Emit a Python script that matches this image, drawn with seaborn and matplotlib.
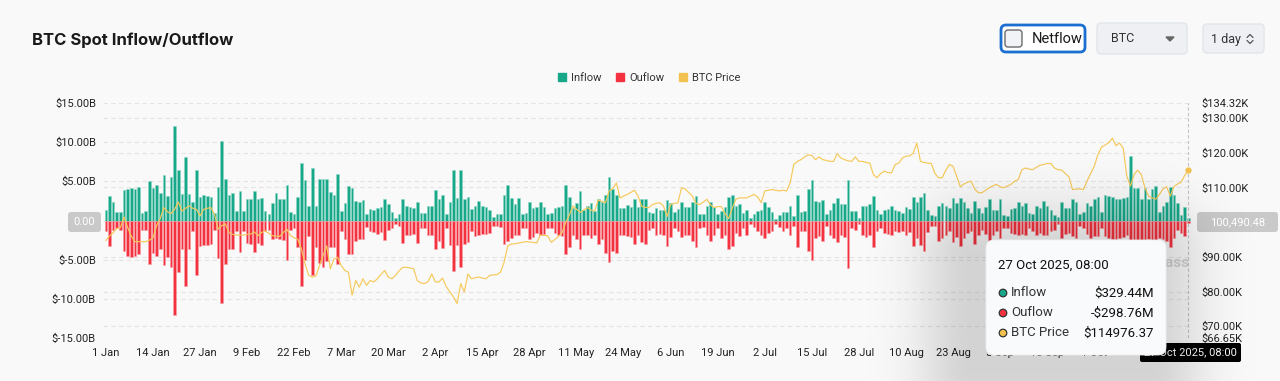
import numpy as np
import pandas as pd
import matplotlib
matplotlib.use("Agg")
import matplotlib.pyplot as plt
import seaborn as sns
from matplotlib.patches import FancyBboxPatch, Patch, Circle, Polygon, Rectangle

# daily spot inflow (billions USD), 1 Jan - 27 Oct 2025
inflow = [
    1.4, 3.1, 2.35, 1.07, 1.07, 3.9, 3.97, 4.2, 4.0, 4.3,
    1.0, 1.15, 5.0, 4.2, 4.5, 3.5, 5.8, 3.1, 5.5, 12.1,
    6.45, 3.4, 8.1, 3.4, 2.3, 6.5, 3.0, 3.3, 3.1, 3.0,
    1.0, 4.3, 10.2, 5.3, 3.25, 3.5, 1.2, 3.8, 1.2, 2.7,
    2.8, 3.8, 2.7, 2.9, 1.2, 0.8, 2.2, 3.5, 2.8, 2.7,
    4.5, 1.1, 0.8, 3.0, 7.3, 5.2, 1.9, 6.75, 1.9, 5.3,
    5.3, 5.3, 3.7, 3.3, 5.9, 1.2, 2.2, 4.4, 4.2, 2.5,
    2.3, 2.6, 0.8, 1.5, 1.4, 1.6, 1.75, 2.8, 2.05, 1.1,
    0.35, 0.8, 2.8, 1.8,
    1.75, 1.6, 2.3, 1.0, 0.9, 1.8, 1.9, 3.9, 2.7, 3.2,
    0.8, 2.35, 6.5, 2.9, 6.45, 2.8, 3.0, 1.5, 1.9, 2.5,
    1.8, 1.75, 1.4, 0.5, 0.8, 0.8, 3.25, 4.5, 2.9, 2.05,
    2.9, 0.8, 0.9, 2.35, 1.6, 1.75, 2.4, 1.75, 0.8, 0.9,
    1.6, 1.75, 1.9, 4.5, 3.0, 1.6, 2.2, 3.8, 1.4, 1.9,
    2.2, 1.2, 2.7, 2.35, 3.2, 5.6, 4.0, 3.2, 1.6, 1.6,
    2.0, 1.75, 2.7, 1.75, 2.8, 2.7, 1.1, 0.9, 1.6, 1.4,
    1.4, 2.6, 2.2, 1.1, 1.5, 2.35, 1.75, 1.75, 2.35, 3.1,
    0.8, 0.8, 1.8, 2.3, 1.75, 0.8, 1.2, 1.75, 3.0,
    3.3, 1.9, 2.05, 1.0, 1.4, 0.35, 0.8, 1.2, 1.3, 2.3,
    1.75, 1.1, 0.25, 0.65, 1.1, 1.1, 1.8, 0.55, 3.3, 1.1,
    1.2, 4.0, 5.2, 2.5, 2.35, 2.6, 0.8, 1.4, 2.2, 2.9,
    2.05, 2.05, 5.2, 1.2, 1.2, 0.35, 1.9, 1.9, 2.05, 3.1,
    1.4, 0.8, 1.4, 1.5, 1.8, 1.3, 1.2, 1.0, 1.75, 1.5,
    3.0, 2.3, 3.0, 3.5, 1.4, 0.65, 0.55, 1.9, 2.2, 1.9,
    1.6, 2.9, 2.2, 2.9, 2.35, 1.6, 1.0, 2.5, 1.6, 1.0,
    1.75, 2.7, 1.4, 1.4, 2.7, 0.65, 0.55, 1.5, 1.6, 2.3,
    1.9, 2.2, 0.9, 0.8, 1.9, 1.6, 2.5, 1.8,
    1.3, 0.65, 0.5, 2.35, 1.6, 1.6, 2.8, 2.35, 0.8, 1.1,
    2.2, 1.9, 2.8, 3.0, 1.1, 3.2, 3.1, 3.0, 2.8, 2.7,
    2.9, 3.0, 8.2, 4.2, 4.2, 2.8, 4.1, 2.7, 4.0, 4.4,
    1.1, 1.9, 2.35, 4.3, 3.3, 2.2, 0.65, 1.75, 0.32944,
]

# daily spot outflow, size only (billions USD)
outflow_size = [
    1.4, 3.3, 1.2, 1.0, 1.2, 3.9, 4.5, 4.7, 4.5, 4.3,
    1.2, 1.2, 5.6, 4.1, 4.5, 3.7, 5.7, 4.6, 5.9, 12.1,
    6.6, 3.7, 8.3, 3.7, 1.4, 7.0, 3.2, 3.1, 3.1, 3.0,
    1.2, 4.8, 10.5, 5.6, 3.7, 3.7, 1.4, 4.0, 1.4, 2.9,
    3.0, 4.0, 2.9, 3.1, 1.3, 1.2, 2.4, 2.2, 2.4, 2.5,
    5.0, 1.2, 0.9, 3.4, 8.3, 5.0, 2.0, 7.0, 3.4, 5.4,
    5.9, 5.2, 3.4, 3.4, 5.6, 1.4, 2.4, 4.3, 4.3, 2.6,
    2.4, 2.4, 0.8, 1.3, 1.5, 1.7, 1.5, 2.5, 1.2, 0.9,
    0.4, 0.7, 2.9, 1.8,
    1.9, 1.7, 2.9, 1.0, 0.9, 1.8, 1.9, 3.7, 2.6, 3.5,
    0.9, 3.1, 6.5, 3.1, 5.9, 3.0, 2.7, 1.4, 2.0, 1.9,
    1.7, 1.7, 1.6, 0.7, 0.7, 0.85, 3.0, 2.65, 2.2, 1.9,
    1.9, 0.9, 1.0, 2.4, 2.1, 1.6, 1.9, 1.7, 0.9, 0.9,
    1.6, 1.9, 2.0, 4.3, 3.4, 1.9, 2.4, 3.7, 1.8, 1.9,
    2.2, 1.8, 3.0, 2.4, 4.1, 5.3, 3.9, 4.1, 1.9, 1.8,
    2.0, 2.1, 3.0, 1.9, 2.7, 3.0, 1.2, 1.0, 1.8, 1.7,
    1.8, 3.3, 2.1, 1.0, 1.3, 2.1, 1.8, 1.9, 2.65, 3.4,
    1.0, 0.85, 1.9, 2.6, 1.8, 1.0, 2.2, 1.9, 3.7,
    3.2, 1.6, 2.0, 1.0, 1.8, 0.5, 0.85, 1.3, 1.8, 2.2,
    1.6, 1.4, 0.45, 0.85, 1.3, 1.0, 1.8, 0.7, 3.4, 1.3,
    1.3, 3.9, 5.1, 2.2, 2.0, 2.65, 0.7, 1.8, 2.2, 2.7,
    1.9, 2.1, 6.0, 1.0, 1.15, 0.45, 1.9, 2.1, 1.9, 3.4,
    1.4, 1.0, 1.6, 1.7, 1.8, 1.3, 1.45, 1.3, 1.8, 1.5,
    3.3, 2.2, 3.1, 3.9, 1.45, 0.7, 0.7, 2.6, 2.2, 1.9,
    1.4, 2.7, 2.1, 3.3, 2.2, 1.6, 1.3, 3.0, 1.8, 1.15,
    1.7, 3.1, 1.8, 1.4, 2.2, 1.0, 1.0, 1.6, 1.7, 1.9,
    1.7, 1.8, 1.0, 1.3, 1.9, 1.6, 1.8, 1.8,
    1.4, 1.15, 0.5, 2.2, 1.7, 1.6, 2.0, 2.2, 0.7, 1.0,
    1.7, 2.2, 2.0, 2.0, 0.95, 2.0, 2.2, 2.4, 2.3, 2.2,
    2.1, 1.8, 6.5, 3.0, 2.6, 2.8, 2.6, 2.4, 2.6, 2.5,
    2.2, 2.4, 2.6, 3.4, 2.2, 1.15, 1.6, 2.0, 0.29876,
]

# BTC price (thousands USD)
btc_price = [
    94.7, 96.0, 97.0, 98.2, 98.4, 101.5, 98.5, 96.0, 94.4, 94.4,
    94.4, 94.4, 94.8, 95.5, 99.0, 101.0, 104.2, 103.0, 102.5, 103.7,
    105.8, 103.2, 104.0, 104.7, 104.0, 103.7, 101.8, 103.7, 104.0, 104.2,
    102.3, 98.0, 99.0, 99.5, 97.0, 96.5, 96.3, 96.3, 96.3, 96.5,
    96.6, 97.2, 96.1, 97.0, 97.5, 96.8, 96.1, 96.0, 95.9, 97.0,
    98.0, 96.1, 95.5, 95.1, 92.3, 88.0, 84.7, 84.2, 84.5, 87.5,
    90.4, 93.2, 86.6, 89.4, 89.9, 87.5, 86.1, 85.6, 79.0, 83.2,
    81.3, 83.7, 81.8, 83.2, 82.8, 83.7, 85.0, 86.1, 84.2, 83.7,
    84.7, 86.0, 87.0, 87.0, 86.8, 86.6, 83.2, 82.5, 82.3, 82.9,
    85.1, 82.8, 82.8, 83.9, 81.5, 79.9, 78.5, 76.6, 82.3, 79.9,
    85.1, 83.7, 84.0, 84.2, 83.9, 83.7, 84.7, 84.8, 84.9, 85.6,
    88.5, 93.2, 93.7, 93.8, 94.0, 94.2, 94.4, 94.3, 94.2, 94.0,
    96.3, 96.2, 96.1, 94.2, 95.0, 95.9, 97.0, 99.9, 102.0, 104.7,
    103.7, 102.8, 103.5, 104.2, 103.5, 103.2, 106.4, 106.0, 105.6, 109.0,
    109.6, 111.3, 107.0, 107.5, 108.0, 108.6, 109.2, 107.5, 104.5, 104.3,
    104.2, 105.1, 105.4, 105.6, 104.7, 101.6, 105.1, 105.4, 105.6, 109.9,
    109.6, 108.5, 107.5, 105.4, 105.1, 105.8, 106.6, 105.0, 104.2, 104.5,
    104.5, 102.5, 101.0, 104.0, 106.6, 107.0, 107.0, 107.0, 107.5, 108.0,
    107.3, 105.6, 109.0, 109.2, 109.4, 109.2, 109.0, 109.2, 109.0, 111.3,
    116.6, 117.5, 118.0, 118.8, 119.4, 119.2, 118.0, 118.8, 118.0, 117.8,
    117.5, 117.5, 119.7, 118.5, 118.0, 117.7, 117.5, 118.8, 117.5, 117.5,
    117.2, 117.0, 113.7, 112.8, 114.0, 114.7, 114.3, 114.2, 116.6, 117.0,
    118.5, 119.0, 119.1, 119.9, 122.8, 117.5, 117.2, 117.0, 116.9, 114.0,
    112.8, 112.8, 115.0, 116.6, 116.1, 113.2, 110.2, 111.0, 111.5, 111.8,
    109.5, 108.5, 108.5, 109.2, 109.9, 110.5, 110.9, 110.2, 109.9, 110.4,
    110.9, 111.8, 112.3, 115.1, 115.6, 115.3, 115.1, 115.8, 116.4, 116.6,
    116.9, 116.9, 115.6, 115.1, 115.0, 114.0, 113.1, 109.4, 109.5, 109.6,
    109.4, 111.8, 114.0, 116.1, 119.4, 121.6, 122.2, 122.9, 124.2, 122.0,
    122.8, 121.3, 113.2, 110.4, 113.7, 115.0, 113.7, 109.9, 107.5, 107.0,
    106.6, 108.0, 109.6, 110.2, 107.5, 110.2, 111.0, 111.5, 113.5, 114.97637,
]

left_ticks = [-15, -10, -5, 0, 5, 10, 15]
price_min, price_max = 66.65, 134.32
price_ticks = [70, 80, 90, 110, 120, 130]

GREEN = "#17a88a"
RED = "#f4323f"
YELLOW = "#f3c24e"
LINE_YELLOW = "#f6c95a"
BG = "#f9f9f9"

dates = pd.date_range("2025-01-01", periods=len(inflow), freq="D")
df = pd.DataFrame({
    "day": np.arange(len(dates)),
    "inflow": inflow,
    "outflow": -np.array(outflow_size),
    "price": btc_price,
})

sns.set_theme(style="white")
plt.rcParams["font.family"] = ["Roboto", "DejaVu Sans"]

W, H = 1280, 381
fig = plt.figure(figsize=(W / 100, H / 100), dpi=100, facecolor=BG)


def fx(px):
    return px / W


def fy(py):
    return 1 - py / H


ax = fig.add_axes([fx(103), fy(338), fx(1192) - fx(103), fy(103) - fy(338)])
ax.set_facecolor(BG)

# dashed grid for both scales, behind the bars
for v in left_ticks:
    ax.axhline(v, color="#e4e4e4", lw=0.8, ls=(0, (4, 3)), zorder=0)
for p in price_ticks:
    ax.axhline(-15 + 30 * (p - price_min) / (price_max - price_min),
               color="#e4e4e4", lw=0.8, ls=(0, (4, 3)), zorder=0)

sns.barplot(data=df, x="day", y="inflow", color=GREEN, saturation=1, width=0.72,
            errorbar=None, edgecolor="#8fd6c5", linewidth=0.4, ax=ax, zorder=2)
sns.barplot(data=df, x="day", y="outflow", color=RED, saturation=1, width=0.72,
            errorbar=None, edgecolor="#f9a2a9", linewidth=0.4, ax=ax, zorder=2)

ax.set_ylim(-15, 15)
ax.set_yticks(left_ticks)
ax.set_yticklabels(["" if v == 0 else f"${v:.2f}B" for v in left_ticks])
# the last two date labels sit under the tooltip and crosshair label
xt = list(range(0, len(dates) - 26, 13))
ax.set_xticks(xt)
ax.set_xticklabels([f"{dates[i].day} {dates[i].strftime('%b')}" for i in xt])
ax.set_xlim(-0.8, 300)
ax.set_xlabel("")
ax.set_ylabel("")
ax.tick_params(axis="both", length=0, labelsize=8, colors="#222222")
ax.tick_params(axis="x", pad=7)
ax.tick_params(axis="y", pad=5)
for s in ax.spines.values():
    s.set_visible(False)

# crosshair
ax.axvline(len(dates) - 1, color="#c4c4c4", lw=0.8, ls=(0, (3, 2)), zorder=3)

ax2 = ax.twinx()
ax2.patch.set_visible(False)
sns.lineplot(data=df, x="day", y="price", color=LINE_YELLOW, lw=0.85, ax=ax2, zorder=4)
ax2.plot(df["day"].iloc[-1], df["price"].iloc[-1], "o", ms=3.5, color=YELLOW, zorder=5)
ax2.set_ylim(price_min, price_max)
ax2.set_xlim(-0.8, 300)
r_ticks = [price_min] + price_ticks + [price_max]
ax2.set_yticks(r_ticks)
ax2.set_yticklabels([f"${v:.2f}K" for v in r_ticks])
ax2.set_ylabel("")
ax2.tick_params(axis="y", length=0, labelsize=8, colors="#222222", pad=7)
for s in ax2.spines.values():
    s.set_visible(False)

fig.legend(
    handles=[Patch(color=GREEN), Patch(color=RED), Patch(color=YELLOW)],
    labels=["Inflow", "Ouflow", "BTC Price"],
    loc="center", bbox_to_anchor=(fx(649), fy(78)), ncol=3, frameon=False,
    fontsize=8, handlelength=0.75, handleheight=0.75, handletextpad=0.45,
    columnspacing=1.3, labelcolor="#333333",
)

# overlay in pixel coordinates for the page furniture
ov = fig.add_axes([0, 0, 1, 1], zorder=10)
ov.patch.set_alpha(0)

ov.text(32, 40, "BTC Spot Inflow/Outflow", fontsize=12, fontweight="bold",
        va="center", color="#1a1a1a", family=["Inter", "DejaVu Sans"])

ov.add_patch(FancyBboxPatch((1001, 25), 84, 27, boxstyle="round,pad=0,rounding_size=5",
                            fc="white", ec="#1a6fd1", lw=2))
ov.add_patch(FancyBboxPatch((1005, 30), 17, 17, boxstyle="round,pad=0,rounding_size=3",
                            fc="#f1f3f6", ec="#6b6b6b", lw=1))
ov.text(1032, 39, "Netflow", fontsize=10.5, va="center", color="#1a1a1a")

ov.add_patch(FancyBboxPatch((1097, 23), 90, 31, boxstyle="round,pad=0,rounding_size=4",
                            fc="#eef0f4", ec="#e2e5ea", lw=1))
ov.text(1111, 39, "BTC", fontsize=9, va="center", color="#333333")
ov.add_patch(Polygon([(1166, 37), (1174, 37), (1170, 41)], closed=True, color="#666666"))

ov.add_patch(FancyBboxPatch((1203, 24), 61, 29, boxstyle="round,pad=0,rounding_size=4",
                            fc="#eef0f4", ec="#e2e5ea", lw=1))
ov.text(1211, 39, "1 day", fontsize=9, va="center", color="#333333")
ov.plot([1247, 1250, 1253], [37.5, 34.5, 37.5], color="#555555", lw=0.9)
ov.plot([1247, 1250, 1253], [40.5, 43.5, 40.5], color="#555555", lw=0.9)

# crosshair value labels
ov.add_patch(FancyBboxPatch((68, 212), 33, 20, boxstyle="round,pad=0,rounding_size=3",
                            fc="#c9c9c9", ec="none"))
ov.text(84.5, 222, "0.00", fontsize=8, ha="center", va="center", color="white")
ov.add_patch(FancyBboxPatch((1197, 212), 81, 20, boxstyle="round,pad=0,rounding_size=3",
                            fc="#c9c9c9", ec="none"))
ov.text(1237.5, 222, "100,490.48", fontsize=8, ha="center", va="center", color="white")

# watermark, mostly hidden by the tooltip
ov.text(1190, 263, "coinglass", fontsize=11, fontweight="bold", ha="right", va="center",
        color="#d2d2d2", zorder=1)

ov.add_patch(FancyBboxPatch((1140, 343), 101, 19, boxstyle="round,pad=0,rounding_size=2",
                            fc="black", ec="none", zorder=1.5))
lbl = ov.text(1190.5, 352.5, f"{dates[-1].day} {dates[-1].strftime('%b %Y')}, 08:00",
              fontsize=8, ha="center", va="center", color="white", zorder=1.6)
lbl.set_clip_path(Rectangle((1167, 340), 80, 25, transform=ov.transData))

# soft shadow under the tooltip
yy, xx = np.mgrid[0:H, 0:W] + 0.5
dx = np.maximum(np.maximum(972 - xx, xx - 1150), 0)
dy = np.maximum(np.maximum(255 - yy, yy - 368), 0)
shadow = np.zeros((H, W, 4))
shadow[..., 3] = 0.15 * np.exp(-(np.hypot(dx, dy) / 55) ** 2)
ov.imshow(shadow, extent=(0, W, H, 0), aspect="auto", zorder=2, interpolation="bilinear")

ov.add_patch(FancyBboxPatch((986, 240), 180, 115, boxstyle="round,pad=0,rounding_size=8",
                            fc="#f9fafb", ec="#eeeeee", lw=0.6, zorder=5))
ov.text(998, 265, f"{dates[-1].day} {dates[-1].strftime('%b %Y')}, 08:00",
        fontsize=9.5, va="center", color="#111111", zorder=6)
rows = [
    ("Inflow", f"${inflow[-1] * 1000:.2f}M", GREEN),
    ("Ouflow", f"-${outflow_size[-1] * 1000:.2f}M", RED),
    ("BTC Price", f"${btc_price[-1] * 1000:.2f}", YELLOW),
]
for k, (name, val, col) in enumerate(rows):
    y_row = 293 + 20 * k
    ov.add_patch(Circle((1003, y_row), 3.8, fc=col, ec="#333333", lw=0.9, zorder=6))
    ov.text(1011, y_row, name, fontsize=9.5, va="center", color="#333333", zorder=6)
    ov.text(1154, y_row, val, fontsize=9.5, va="center", ha="right", color="#111111", zorder=6)

ov.set_xlim(0, W)
ov.set_ylim(H, 0)
ov.axis("off")

fig.savefig("out.png", dpi=100, facecolor=BG)
